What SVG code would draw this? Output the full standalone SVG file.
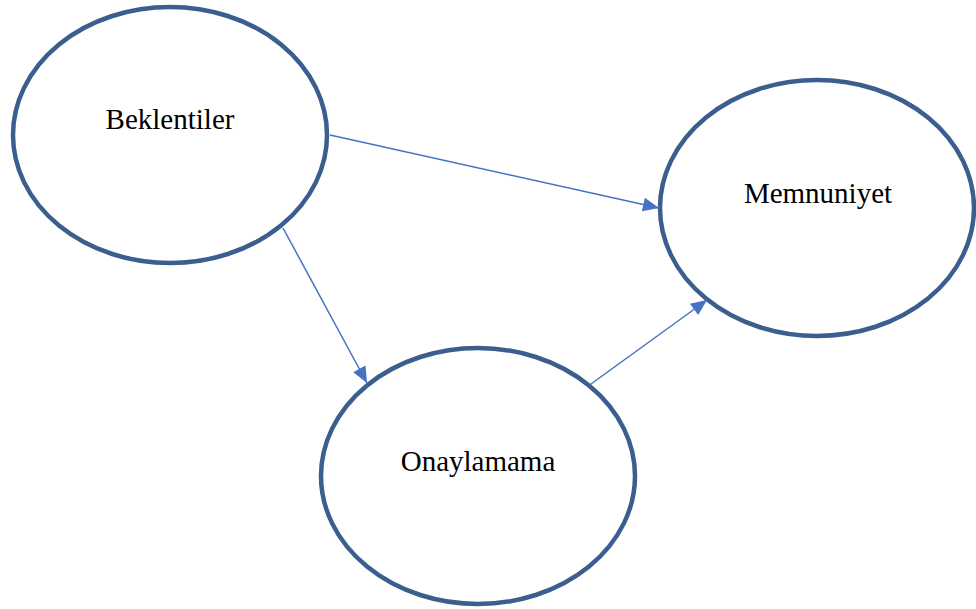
<svg xmlns="http://www.w3.org/2000/svg" width="976" height="609" viewBox="0 0 976 609">
  <style>
    .node { fill: #ffffff; stroke: #3A5F8F; stroke-width: 4.5; }
    .label { font-family: "Liberation Serif", "Times New Roman", serif; font-size: 29px; fill: #000000; text-anchor: middle; }
    .edge { fill: none; stroke: #4472C4; stroke-width: 1.5; marker-end: url(#arrow); }
  </style>
  <defs>
    <marker id="arrow" markerWidth="16" markerHeight="14" refX="16" refY="7" orient="auto" markerUnits="userSpaceOnUse" viewBox="0 0 16 14" overflow="visible">
      <path d="M0,0 L16,7 L0,14 Z" fill="#4472C4"/>
    </marker>
  </defs>
  <rect width="976" height="609" fill="#ffffff"/>

  <g id="node-beklentiler">
    <ellipse class="node" cx="170" cy="135" rx="157" ry="128"/>
    <text class="label" x="170" y="129">Beklentiler</text>
  </g>
  <g id="node-memnuniyet">
    <ellipse class="node" cx="817" cy="208" rx="157" ry="128"/>
    <text class="label" x="818" y="203">Memnuniyet</text>
  </g>
  <g id="node-onaylamama">
    <ellipse class="node" cx="478" cy="476" rx="157" ry="128"/>
    <text class="label" x="478" y="471">Onaylamama</text>
  </g>

  <g id="connectors">
    <line class="edge" x1="330" y1="135" x2="659" y2="208"/>
    <line class="edge" x1="283" y1="228" x2="367" y2="383"/>
    <line class="edge" x1="591" y1="384" x2="707" y2="300"/>
  </g>
</svg>
